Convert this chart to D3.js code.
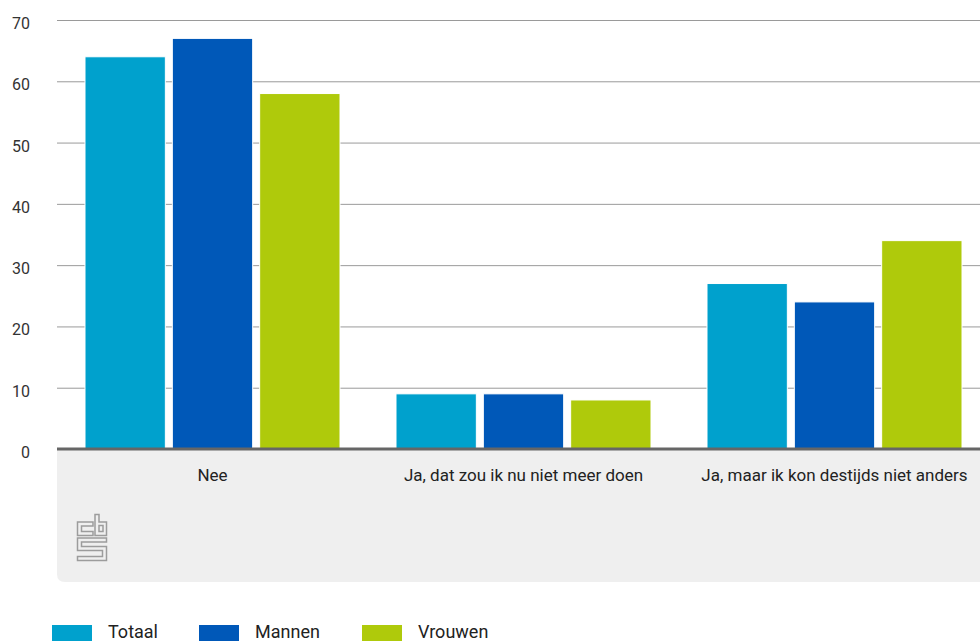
<!DOCTYPE html>
<html><head><meta charset="utf-8">
<script src="https://cdn.jsdelivr.net/npm/d3@7/dist/d3.min.js"></script>
<style>body{margin:0;background:#fff;}svg{display:block;font-family:Roboto, "Noto Sans", sans-serif;}</style>
</head><body>
<svg id="chart" width="980" height="641"></svg>
<script>
const categories = ["Nee", "Ja, dat zou ik nu niet meer doen", "Ja, maar ik kon destijds niet anders"];
const seriesNames = ["Totaal", "Mannen", "Vrouwen"];
const totaal = [64, 9, 27];
const mannen = [67, 9, 24];
const vrouwen = [58, 8, 34];
const yTicks = [0, 10, 20, 30, 40, 50, 60, 70];
const colors = ["#00a1cd", "#0058b8", "#afca0b"];

const seriesValues = [totaal, mannen, vrouwen];
const svg = d3.select("#chart");
const plotLeft = 57, plotRight = 990, plotTop = 20, plotBottom = 449;

const x0 = d3.scaleBand().domain(categories).range([plotLeft, plotRight]).padding(0);
const x1 = d3.scaleBand().domain(seriesNames).range([28, x0.bandwidth() - 28]).paddingInner(0.08);
const y = d3.scaleLinear().domain([0, 70]).range([plotBottom, plotTop]);

// gray label area
const bgH = 133;
svg.append("path")
  .attr("d", `M${plotLeft},${plotBottom} H980 V${plotBottom + bgH} H${plotLeft + 8} Q${plotLeft},${plotBottom + bgH} ${plotLeft},${plotBottom + bgH - 8} Z`)
  .attr("fill", "#efefef");

// gridlines
svg.append("g").selectAll("line").data(yTicks.filter(d => d > 0)).join("line")
  .attr("x1", plotLeft).attr("x2", 980)
  .attr("y1", d => y(d) + 0.5).attr("y2", d => y(d) + 0.5)
  .attr("stroke", "#9a9a9a").attr("stroke-width", 1);

// y labels
svg.append("g").selectAll("text").data(yTicks).join("text")
  .attr("x", 30).attr("y", d => y(d) + 9)
  .attr("text-anchor", "end")
  .attr("font-size", 16).attr("fill", "#333")
  .text(d => d);

// bars
const groups = svg.append("g").selectAll("g").data(categories).join("g")
  .attr("transform", c => `translate(${x0(c)},0)`);
groups.selectAll("rect").data((c, i) => seriesNames.map((s, j) => ({s, v: seriesValues[j][i], j})))
  .join("rect")
  .attr("x", d => x1(d.s)).attr("width", x1.bandwidth())
  .attr("y", d => y(d.v)).attr("height", d => y(0) - y(d.v))
  .attr("fill", d => colors[d.j])
  .attr("stroke", "#fff").attr("stroke-width", 1);

// baseline
svg.append("line").attr("x1", plotLeft).attr("x2", 980).attr("y1", plotBottom).attr("y2", plotBottom)
  .attr("stroke", "#666").attr("stroke-width", 3);

// category labels
svg.append("g").selectAll("text").data(categories).join("text")
  .attr("x", c => x0(c) + x0.bandwidth() / 2).attr("y", 481)
  .attr("text-anchor", "middle").attr("font-size", 17).attr("fill", "#222")
  .text(c => c);

// CBS logo
const logo = svg.append("g").attr("fill", "none").attr("stroke", "#9c9c9c").attr("stroke-width", 1.5);
logo.append("path").attr("d", "M93,522 H77.5 V535.5 H93 V531.5 H81.5 V526 H93 Z");
logo.append("path").attr("d", "M95,514.5 V535.5 H106.5 V522 H99 V514.5 Z");
logo.append("rect").attr("x", 99).attr("y", 525.5).attr("width", 4).attr("height", 6);
logo.append("path").attr("d", "M77.5,538 H106.5 V542 H81.5 V546.5 H106.5 V560.5 H77.5 V556.5 H102.5 V550.5 H77.5 Z");

// legend
const leg = svg.append("g").selectAll("g").data(seriesNames).join("g")
  .attr("transform", (d, i) => `translate(${[52, 199, 362][i]},625)`);
leg.append("rect").attr("width", 40).attr("height", 16).attr("fill", (d, i) => colors[i]);
leg.append("text").attr("x", 56).attr("y", 13).attr("font-size", 18).attr("fill", "#222").text(d => d);
</script>
</body></html>
